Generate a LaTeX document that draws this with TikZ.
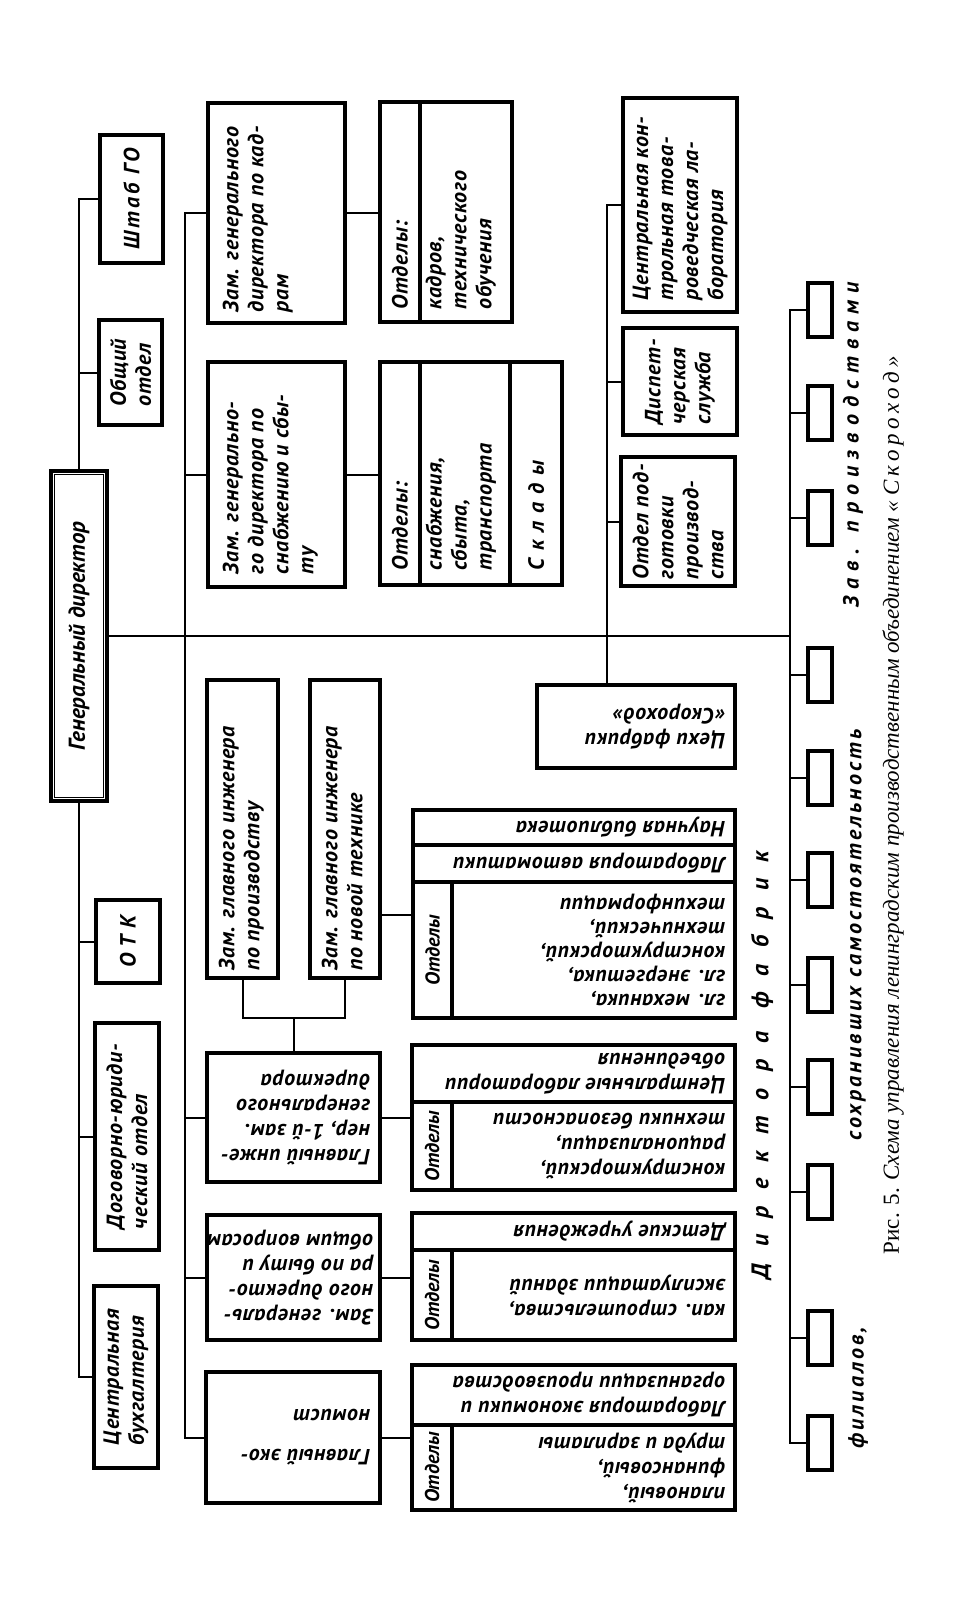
\documentclass[tikz,border=0pt]{standalone}
\usepackage{fontspec}
\newfontfamily\dfont{PT Sans}
\newfontfamily\cfont{Liberation Serif}
\usetikzlibrary{fit}
\tikzset{
    box/.style={draw, line width=3.2pt, inner sep=0pt},
    conn/.style={line width=2pt},
    txt/.style={font=\dfont\bfseries\itshape\addfontfeature{LetterSpace=3}\fontsize{22pt}{25pt}\selectfont, inner sep=0pt, align=left},
    up/.style={txt, rotate=90},
    down/.style={txt, rotate=180},
    otdtxt/.style={up, font=\dfont\bfseries\itshape\fontsize{20pt}{24pt}\selectfont},
    spaced/.style={font={\dfont\bfseries\itshape\addfontfeature{LetterSpace=#1}\fontsize{22pt}{25pt}\selectfont}}
}
\begin{document}
\begin{tikzpicture}[x=1pt, y=-1pt]
        \useasboundingbox (0,0) rectangle (957,1600);
        % director and staff
        \node[box, fit={(51,471) (107,801)}] (gd) {};
        \draw[line width=1.3pt] ([shift={(5pt,5pt)}]gd.south west) rectangle ([shift={(-5pt,-5pt)}]gd.north east);
        \node[up, font=\dfont\bfseries\itshape\fontsize{23pt}{26pt}\selectfont] (gd-t) at (gd) {Генеральный директор};
        \node[box, fit={(100,135) (163,263)}] (shtab) {};
        \node[up, spaced=14] (shtab-t) at (shtab) {Штаб ГО};
        \node[box, fit={(99,320) (162,425)}] (obsh) {};
        \node[up] (obsh-t) at (obsh) {Общий\\отдел};
        \node[box, fit={(96,900) (160,983)}] (otk) {};
        \node[up, spaced=30] (otk-t) at (otk) {ОТК};
        \node[box, fit={(95,1023) (159,1250)}] (dog) {};
        \node[up] (dog-t) at (dog) {Договорно-юриди-\\ческий отдел};
        \node[box, fit={(94,1286) (158,1468)}] (buh) {};
        \node[up] (buh-t) at (buh) {Центральная\\бухгалтерия};
        % deputies
        \node[box, fit={(208,103) (345,323)}] (zkadr) {};
        \node[up, anchor=north west] (zkadr-t) at ([shift={(16pt,12pt)}]zkadr.south west) {Зам. генерального\\директора по кад-\\рам};
        \node[box, fit={(208,362) (345,587)}] (zsnab) {};
        \node[up, anchor=north west] (zsnab-t) at ([shift={(16pt,14pt)}]zsnab.south west) {Зам. генерально-\\го директора по\\снабжению и сбы-\\ту};
        \node[box, fit={(207,680) (278,978)}] (zproiz) {};
        \node[up, anchor=north west] (zproiz-t) at ([shift={(13pt,9pt)}]zproiz.south west) {Зам. главного инженера\\по производству};
        \node[box, fit={(310,680) (380,978)}] (znov) {};
        \node[up, anchor=north west] (znov-t) at ([shift={(13pt,9pt)}]znov.south west) {Зам. главного инженера\\по новой технике};
        \node[box, fit={(207,1053) (380,1182)}] (ginzh) {};
        \node[down, anchor=west] (ginzh-t) at ([xshift=-11pt]ginzh.east) {Главный инже-\\нер, 1-й зам.\\генерального\\директора};
        \node[box, fit={(207,1215) (380,1340)}] (zbyt) {};
        \node[down, anchor=west] (zbyt-t) at ([xshift=-8pt]zbyt.east) {Зам. генераль-\\ного директо-\\ра по быту и\\общим вопросам};
        \node[box, fit={(206,1372) (380,1503)}] (gecon) {};
        \node[down, anchor=west] (gecon-t) at ([xshift=-11pt]gecon.east) {Главный эко-\\[15pt]номист};
        % departments
        \node[box, fit={(380,102) (420,322)}] (kotd) {};
        \node[box, fit={(420,102) (512,322)}] (kspis) {};
        \node[up, anchor=west] (kotd-t) at ([yshift=14pt]kotd.south) {Отделы:};
        \node[up, anchor=north west] (kspis-t) at ([shift={(7pt,14pt)}]kspis.south west) {кадров,\\технического\\обучения};
        \node[box, fit={(380,362) (420,585)}] (sotd) {};
        \node[box, fit={(420,362) (510,585)}] (sspis) {};
        \node[box, fit={(510,362) (562,585)}] (sklad) {};
        \node[up, anchor=west] (sotd-t) at ([yshift=16pt]sotd.south) {Отделы:};
        \node[up, anchor=north west] (sspis-t) at ([shift={(7pt,16pt)}]sspis.south west) {снабжения,\\сбыта,\\транспорта};
        \node[up, spaced=36, anchor=west] (sklad-t) at ([yshift=16pt]sklad.south) {Склады};
        \node[box, fit={(413,810) (735,845)}] (abib) {};
        \node[box, fit={(413,845) (735,882)}] (alab) {};
        \node[box, fit={(413,882) (452,1018)}] (aotd) {};
        \node[box, fit={(452,882) (735,1018)}] (aspis) {};
        \node[down, anchor=west] (abib-t) at ([xshift=-11pt]abib.east) {Научная библиотека};
        \node[down, anchor=west] (alab-t) at ([xshift=-11pt]alab.east) {Лаборатория автоматики};
        \node[otdtxt] (aotd-t) at (aotd) {Отделы};
        \node[down, anchor=west, font=\dfont\bfseries\itshape\addfontfeature{LetterSpace=3}\fontsize{22pt}{24pt}\selectfont] (aspis-t) at ([xshift=-11pt]aspis.east) {гл. механика,\\гл. энергетика,\\конструкторский,\\технический,\\техинформации};
        \node[box, fit={(412,1045) (735,1102)}] (bcen) {};
        \node[box, fit={(412,1102) (452,1190)}] (botd) {};
        \node[box, fit={(452,1102) (735,1190)}] (bspis) {};
        \node[down, anchor=west] (bcen-t) at ([xshift=-11pt]bcen.east) {Центральные лаборатории\\объединения};
        \node[otdtxt] (botd-t) at (botd) {Отделы};
        \node[down, anchor=west] (bspis-t) at ([xshift=-11pt]bspis.east) {конструкторский,\\рационализации,\\техники безопасности};
        \node[box, fit={(412,1213) (735,1250)}] (cdet) {};
        \node[box, fit={(412,1250) (452,1340)}] (cotd) {};
        \node[box, fit={(452,1250) (735,1340)}] (cspis) {};
        \node[down, anchor=west] (cdet-t) at ([xshift=-11pt]cdet.east) {Детские учреждения};
        \node[otdtxt] (cotd-t) at (cotd) {Отделы};
        \node[down, anchor=west] (cspis-t) at ([xshift=-11pt]cspis.east) {кап. строительства,\\эксплуатации зданий};
        \node[box, fit={(412,1365) (735,1425)}] (dlab) {};
        \node[box, fit={(412,1425) (452,1510)}] (dotd) {};
        \node[box, fit={(452,1425) (735,1510)}] (dspis) {};
        \node[down, anchor=west] (dlab-t) at ([xshift=-11pt]dlab.east) {Лаборатория экономики и\\организации производства};
        \node[otdtxt] (dotd-t) at (dotd) {Отделы};
        \node[down, anchor=west] (dspis-t) at ([xshift=-11pt]dspis.east) {плановый,\\финансовый,\\труда и зарплаты};
        % factory services
        \node[box, fit={(623,98) (737,312)}] (clab) {};
        \node[up, anchor=west] (clab-t) at ([yshift=13pt]clab.south) {Центральная кон-\\трольная това-\\роведческая ла-\\боратория};
        \node[box, fit={(623,328) (737,435)}] (disp) {};
        \node[up, anchor=west] (disp-t) at ([yshift=12pt]disp.south) {Диспет-\\черская\\служба};
        \node[box, fit={(621,457) (735,586)}] (opodg) {};
        \node[up, anchor=west] (opodg-t) at ([yshift=8pt]opodg.south) {Отдел под-\\готовки\\производ-\\ства};
        \node[box, fit={(537,685) (735,768)}] (tsekh) {};
        \node[down, anchor=west] (tsekh-t) at ([xshift=-11pt]tsekh.east) {Цехи фабрики\\«Скороход»};
        % factory directors
        \foreach \y [count=\i] in {310,413,518,675,778,880,985,1087,1192,1338,1443} {
            \node[box, minimum width=24pt, minimum height=54pt] (f\i) at (820,\y) {};
        }
        \node[up, spaced=32] (lzav) at (853,445) {Зав. производствами};
        \node[up, spaced=14] (lsam) at (858,935) {сохранивших самостоятельность};
        \node[up, spaced=14] (lfil) at (858,1388) {филиалов,};
        \node[up, font={\dfont\bfseries\itshape\addfontfeature{LetterSpace=68}\fontsize{24pt}{28pt}\selectfont}] (ldir) at (762,1065) {Директора фабрик};
        \node[rotate=90, inner sep=0pt, font=\cfont\fontsize{23pt}{27pt}\selectfont] (lcap) at (893,805)
            {Рис. 5. \itshape Схема управления ленинградским производственным объединением {\addfontfeature{LetterSpace=20}«Скороход»}};
        % connectors
        \coordinate (dbus) at (185,636);
        \coordinate (tjct) at (607,636);
        \coordinate (fjct) at (790,636);
        \draw[conn] (gd.east) -- (fjct);
        \foreach \n in {shtab,obsh} \draw[conn] (gd.north) |- (\n.west);
        \foreach \n in {otk,dog,buh} \draw[conn] (gd.south) |- (\n.west);
        \foreach \n in {zkadr,zsnab,ginzh,zbyt,gecon} \draw[conn] (dbus) |- (\n.west);
        \foreach \n in {clab,disp,opodg} \draw[conn] (tjct) |- (\n.west);
        \draw[conn] (tjct) -- (tjct |- tsekh.north);
        \foreach \i in {1,...,11} \draw[conn] (fjct) |- (f\i.west);
        \draw[conn] (zkadr.east) -- (zkadr.east -| kotd.west);
        \draw[conn] (zsnab.east) -- (zsnab.east -| sotd.west);
        \draw[conn] ([yshift=35pt]aotd.west) -- ([yshift=35pt]aotd.west -| znov.east);
        \draw[conn] (ginzh.east) -- (ginzh.east -| botd.west);
        \draw[conn] (zbyt.east) -- (zbyt.east -| cotd.west);
        \draw[conn] (gecon.east) -- (gecon.east -| dotd.west);
        \draw[conn] (ginzh.north) -- ++(0,33pt) coordinate (ijct);
        \draw[conn] (zproiz.south) |- (ijct) -| (znov.south);
    \end{tikzpicture}
\end{document}
